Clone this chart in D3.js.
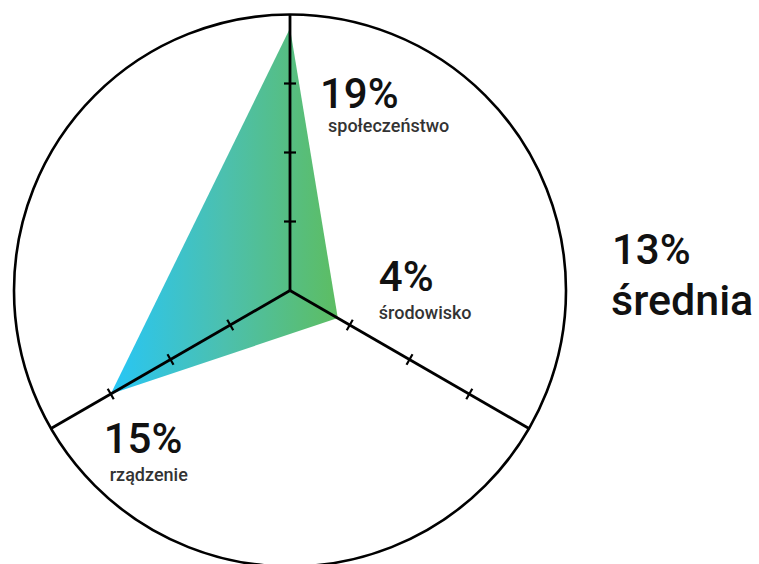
<!DOCTYPE html>
<html><head><meta charset="utf-8">
<script src="https://cdn.jsdelivr.net/npm/d3@7"></script>
<style>html,body{margin:0;padding:0;background:#fff;}svg{display:block;font-family:Roboto,sans-serif;}</style>
</head><body>
<svg id="c" width="759" height="564"></svg>
<script>
const categories = ["społeczeństwo", "środowisko", "rządzenie"];
const values = [19, 4, 15];
const valueLabels = ["19%", "4%", "15%"];
const scaleMax = 20;
const tickValues = [5, 10, 15];
const averageValue = "13%";
const averageLabel = "średnia";

const svg = d3.select("#c");
const cx = 290, cy = 290.5, R = 276;
const r = d3.scaleLinear().domain([0, scaleMax]).range([0, R]);
const angle = d3.scaleOrdinal().domain(categories).range([0, 2*Math.PI/3, 4*Math.PI/3]);
const pt = (cat, v) => { const a = angle(cat); return [cx + r(v)*Math.sin(a), cy - r(v)*Math.cos(a)]; };

const defs = svg.append("defs");
const grad = defs.append("linearGradient").attr("id","g").attr("x1","0%").attr("x2","100%").attr("y1","0%").attr("y2","0%");
grad.append("stop").attr("offset","0%").attr("stop-color","#27C6F6");
grad.append("stop").attr("offset","50%").attr("stop-color","#4CC0AE");
grad.append("stop").attr("offset","100%").attr("stop-color","#5DBD62");

svg.append("circle").attr("cx",cx).attr("cy",cy).attr("r",R).attr("fill","none").attr("stroke","#000").attr("stroke-width",2.6);

svg.append("path")
  .attr("d", d3.line()(categories.map((c,i)=>pt(c, values[i]))) + "Z")
  .attr("fill","url(#g)");

categories.forEach(c => {
  const [x2,y2] = pt(c, scaleMax);
  svg.append("line").attr("x1",cx).attr("y1",cy).attr("x2",x2).attr("y2",y2).attr("stroke","#000").attr("stroke-width",2.8);
  const a = angle(c);
  const px = Math.cos(a), py = Math.sin(a);
  tickValues.forEach(t => {
    const [tx,ty] = pt(c,t);
    svg.append("line").attr("x1",tx-6*px).attr("y1",ty-6*py).attr("x2",tx+6*px).attr("y2",ty+6*py).attr("stroke","#000").attr("stroke-width",2.2);
  });
});

const labelOffsets = [[30, 80], [41, -27], [-7, 59]];
const subOffsets = [[8, 24], [0, 28], [6, 28]];
categories.forEach((c,i) => {
  const [x,y] = pt(c, values[i]);
  const [dx,dy] = labelOffsets[i];
  const g = svg.append("g").attr("transform",`translate(${x+dx},${y+dy})`);
  g.append("text").text(valueLabels[i]).attr("font-size",42).attr("font-weight",500).attr("fill","#111");
  g.append("text").text(c).attr("x", subOffsets[i][0]).attr("y", subOffsets[i][1]).attr("font-size",18).attr("font-weight",500).attr("fill","#333");
});

svg.append("text").text(averageValue).attr("x",612).attr("y",264).attr("font-size",42).attr("font-weight",500).attr("fill","#111");
svg.append("text").text(averageLabel).attr("x",611).attr("y",315).attr("font-size",43).attr("font-weight",500).attr("fill","#111");
</script>
</body></html>
